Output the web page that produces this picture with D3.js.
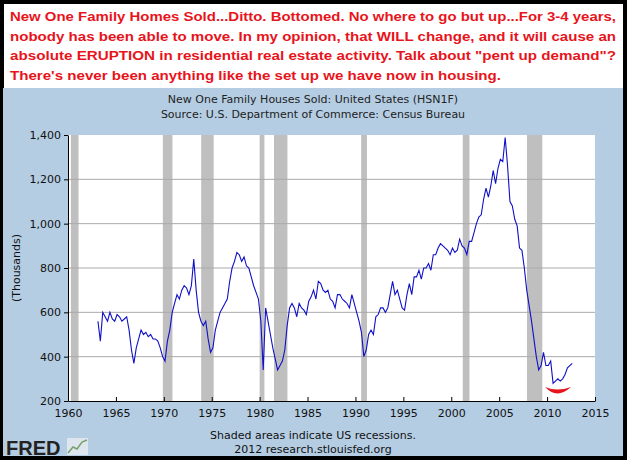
<!DOCTYPE html>
<html><head><meta charset="utf-8">
<script src="https://cdn.jsdelivr.net/npm/d3@7"></script>
<style>body{margin:0;background:#000}svg{display:block}</style>
</head><body>
<script>
// quarterly values (thousands), 1963 Q1 .. 2012 Q2
const startYear = 1963;
const sales = [
  560,470,600,580, 560,600,570,560, 590,580,560,570, 580,520,430,370,
  440,480,520,500, 510,490,500,480, 480,470,440,400, 380,470,520,600,
  640,680,660,700, 720,710,680,720, 840,700,600,560, 540,560,480,420,
  440,520,560,600, 620,640,660,740, 800,830,870,860, 830,850,810,800,
  760,720,690,660, 560,340,620,560, 500,440,390,340, 360,380,430,540,
  620,640,620,580, 640,620,610,590, 650,670,700,660, 740,730,700,690,
  700,660,650,620, 680,680,660,650, 640,620,680,640, 600,560,510,400,
  430,500,520,500, 580,590,620,620, 600,620,680,740, 680,700,660,620,
  610,680,730,680, 760,760,790,750, 800,800,820,790, 860,860,890,910,
  900,890,880,860, 890,870,880,930, 900,890,860,920, 920,960,1000,1030,
  1040,1110,1160,1120, 1170,1240,1180,1250, 1290,1280,1389,1260, 1100,1080,1020,990,
  890,880,800,700, 630,560,480,400, 340,360,420,360, 360,380,280,290,
  300,290,300,320, 350,360,370
];
const recessions = [[1960.3,1961.1],[1969.9,1970.9],[1973.9,1975.2],[1980.0,1980.5],
  [1981.5,1982.9],[1990.6,1991.2],[2001.2,2001.9],[2007.9,2009.5]];
const yTicks = [200,400,600,800,1000,1200,1400];
const xTicks = [1960,1965,1970,1975,1980,1985,1990,1995,2000,2005,2010,2015];
const titleLines = [
  'New One Family Homes Sold...Ditto. Bottomed. No where to go but up...For 3-4 years,',
  'nobody has been able to move. In my opinion, that WILL change, and it will cause an',
  'absolute ERUPTION in residential real estate activity. Talk about "pent up demand"?',
  'There\'s never been anything like the set up we have now in housing.'
];

const W = 627, H = 460;
const svg = d3.select('body').append('svg').attr('width', W).attr('height', H)
  .style('font-family', 'Verdana, "DejaVu Sans", sans-serif');
svg.append('rect').attr('width', W).attr('height', H).attr('fill', '#000');
svg.append('rect').attr('x', 4).attr('y', 4).attr('width', 619).attr('height', 84).attr('fill', '#fff');
svg.append('rect').attr('x', 3).attr('y', 88).attr('width', 620).attr('height', 368).attr('fill', '#b5cde3');

svg.append('g').selectAll('text').data(titleLines).join('text')
  .attr('x', 10).attr('y', (d, i) => 21 + i * 19.5)
  .attr('fill', '#e8141c').attr('font-weight', 'bold').attr('font-size', 13.2)
  .attr('font-family', '"Liberation Sans", Arial, sans-serif')
  .attr('textLength', (d, i) => i === 3 ? 491 : 606).attr('lengthAdjust', 'spacingAndGlyphs')
  .text(d => d);

svg.append('text').attr('x', 313).attr('y', 103).attr('text-anchor', 'middle').attr('font-size', 11)
  .attr('fill', '#222').text('New One Family Houses Sold: United States (HSN1F)');
svg.append('text').attr('x', 313).attr('y', 118).attr('text-anchor', 'middle').attr('font-size', 11)
  .attr('fill', '#222').text('Source: U.S. Department of Commerce: Census Bureau');

const x = d3.scaleLinear().domain([1960, 2015]).range([68, 595]);
const y = d3.scaleLinear().domain([200, 1400]).range([401, 135]);

svg.append('rect').attr('x', 68).attr('y', 135).attr('width', 527).attr('height', 266).attr('fill', '#fff');
svg.append('g').selectAll('rect').data(recessions).join('rect')
  .attr('x', d => x(d[0])).attr('y', 135).attr('width', d => x(d[1]) - x(d[0])).attr('height', 266)
  .attr('fill', '#bfbfbf');
svg.append('g').selectAll('line').data(yTicks.slice(1, -1)).join('line')
  .attr('x1', 68).attr('x2', 595).attr('y1', d => y(d)).attr('y2', d => y(d))
  .attr('stroke', '#aaa');

const yAxis = svg.append('g').attr('transform', 'translate(68,0)')
  .call(d3.axisLeft(y).tickValues(yTicks).tickSize(4).tickSizeOuter(0).tickFormat(d3.format(',')));
const xAxis = svg.append('g').attr('transform', 'translate(0,401)')
  .call(d3.axisBottom(x).tickValues(xTicks).tickSize(-4).tickSizeOuter(0).tickFormat(d3.format('d')));
[yAxis, xAxis].forEach(a => {
  a.selectAll('path,line').attr('stroke', '#000');
  a.selectAll('text').attr('font-size', 11).attr('fill', '#111')
    .attr('font-family', 'Verdana, "DejaVu Sans", sans-serif');
});
xAxis.selectAll('text').attr('dy', '1.1em');
xAxis.selectAll('.tick text').attr('y', 4);

svg.append('text').attr('transform', 'translate(20,268) rotate(-90)').attr('text-anchor', 'middle')
  .attr('font-size', 11).attr('fill', '#111').text('(Thousands)');

const line = d3.line().x((d, i) => x(startYear + i / 4 + 0.125)).y(d => y(d));
svg.append('path').datum(sales).attr('d', line).attr('fill', 'none')
  .attr('stroke', '#1010c8').attr('stroke-width', 1.1);

// red smile under the 2010 low
svg.append('path')
  .attr('d', `M${x(2009.8)},${y(263)} Q${x(2011)},${y(205)} ${x(2012.5)},${y(263)} Q${x(2011)},${y(240)} ${x(2009.8)},${y(263)}Z`)
  .attr('fill', '#e8141c');

svg.append('text').attr('x', 313).attr('y', 439).attr('text-anchor', 'middle').attr('font-size', 11)
  .attr('fill', '#111').text('Shaded areas indicate US recessions.');
svg.append('text').attr('x', 313).attr('y', 453).attr('text-anchor', 'middle').attr('font-size', 11)
  .attr('fill', '#111').text('2012 research.stlouisfed.org');
svg.append('text').attr('x', 6).attr('y', 455).attr('font-size', 20).attr('font-weight', 'bold')
  .attr('font-family', '"Liberation Sans", Arial, sans-serif').attr('fill', '#222').text('FRED');
svg.append('rect').attr('x', 67).attr('y', 438).attr('width', 21).attr('height', 17).attr('fill', '#dde6ee');
svg.append('path').attr('d', 'M68,453 L73,447 L77,449 L82,442 L87,440').attr('fill', 'none')
  .attr('stroke', '#7aa06a').attr('stroke-width', 1.5);
</script>
</body></html>
